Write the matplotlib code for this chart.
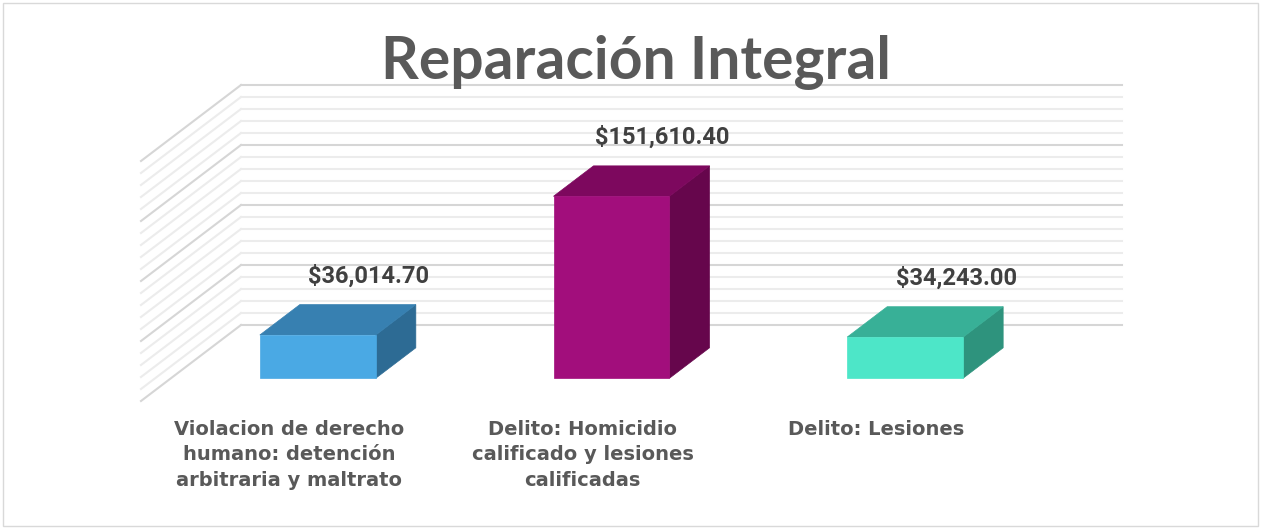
import numpy as np
import matplotlib
matplotlib.use('Agg')
import matplotlib.pyplot as plt
from matplotlib.patches import Polygon, Rectangle

# data
categories = ['Violacion de derecho\nhumano: detención\narbitraria y maltrato',
              'Delito: Homicidio\ncalificado y lesiones\ncalificadas',
              'Delito: Lesiones']
values = [36014.70, 151610.40, 34243.00]
value_labels = ['$36,014.70', '$151,610.40', '$34,243.00']
title = 'Reparación Integral'

front_cols = ['#4aa9e4', '#a20e7c', '#4de6c8']
top_cols = ['#3780b1', '#7d085e', '#38b097']
side_cols = ['#2d6b94', '#66064c', '#2e937d']

W, H = 1261, 529
fig = plt.figure(figsize=(W/100, H/100), dpi=100)
fig.patch.set_facecolor('white')

# back wall of the 3d box, in pixels from top-left
wall_l, wall_r, wall_t, wall_b = 241, 1122, 85, 325
ax = fig.add_axes([wall_l/W, (H-wall_b)/H, (wall_r-wall_l)/W, (wall_b-wall_t)/H])
ymax = 200000
ax.set_xlim(-0.5, 2.5)
ax.set_ylim(0, ymax)
ax.axis('off')

# oblique depth offset (full depth) in data units
px_x = 3/(wall_r-wall_l)
px_y = ymax/(wall_b-wall_t)
DX, DY = -100*px_x, -76*px_y

def proj(x, v, d):
    return (x + DX*d, v + DY*d)

# gridlines on back wall and side wall
for v in np.arange(0, ymax+1, 10000):
    major = v % 50000 == 0
    c = '#d6d6d6' if major else '#ececec'
    ax.plot([-0.5, 2.5], [v, v], color=c, lw=1.5, clip_on=False, zorder=1)
    p0 = proj(-0.5, v, 0)
    p1 = proj(-0.5, v, 1)
    ax.plot([p0[0], p1[0]], [p0[1], p1[1]], color=c, lw=1.5, clip_on=False, zorder=1)

bw = 0.395
d0, d1 = 0.3, 0.7
for i, v in enumerate(values):
    xl, xr = i - bw/2, i + bw/2
    side = [proj(xr, 0, d1), proj(xr, v, d1), proj(xr, v, d0), proj(xr, 0, d0)]
    top = [proj(xl, v, d1), proj(xr, v, d1), proj(xr, v, d0), proj(xl, v, d0)]
    front = [proj(xl, 0, d1), proj(xr, 0, d1), proj(xr, v, d1), proj(xl, v, d1)]
    for pts, c in [(side, side_cols[i]), (top, top_cols[i]), (front, front_cols[i])]:
        ax.add_patch(Polygon(pts, closed=True, facecolor=c, edgecolor=c, lw=0.5,
                             clip_on=False, zorder=3))
    ax.annotate(value_labels[i], (i, v), xytext=(-19, 6), textcoords='offset pixels',
                ha='center', va='center', fontsize=17, fontweight='bold',
                color='#404040', family=['Roboto', 'DejaVu Sans'],
                annotation_clip=False, zorder=5)
    fx, fy = proj(i, 0, 1)
    ax.annotate(categories[i], (fx, fy), xytext=(1, -19), textcoords='offset pixels',
                ha='center', va='top', multialignment='center', fontsize=14,
                fontweight='bold', color='#595959', family=['DejaVu Sans'],
                linespacing=1.42, annotation_clip=False)

t = fig.text(636/W, 1 - 62/H, title, ha='center', va='center', fontsize=40,
             fontweight='bold', color='#595959', family=['Lato', 'DejaVu Sans'])

# fit title width to the reference
r = fig.canvas.get_renderer()
wt = t.get_window_extent(r).width
t.set_fontsize(40*510/wt)

fig.add_artist(Rectangle((3/W, 3/H), (W-6)/W, (H-6)/H, transform=fig.transFigure,
                         fill=False, edgecolor='#d9d9d9', lw=1))

fig.savefig('out.png', dpi=100)
